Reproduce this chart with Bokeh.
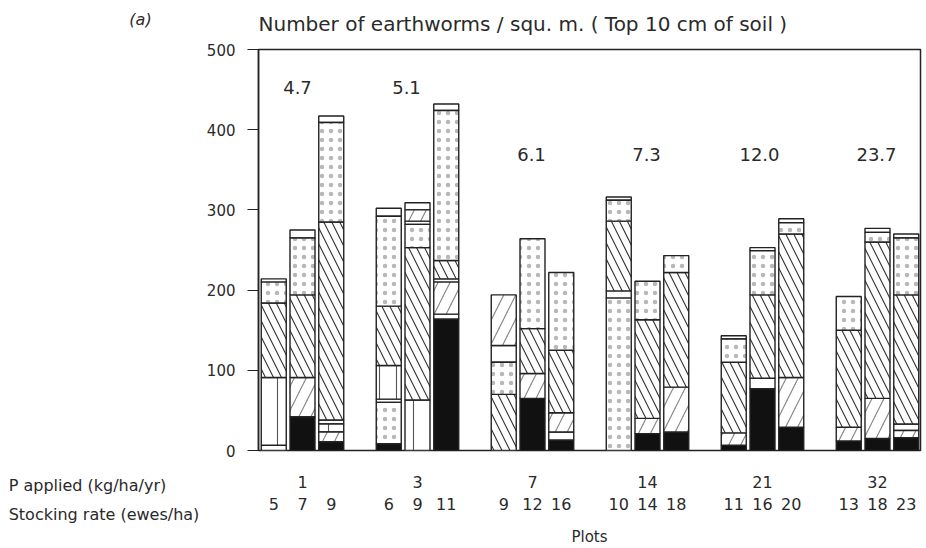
from bokeh.plotting import figure
from bokeh.models import Range1d, Label, FixedTicker, ColumnDataSource, LinearAxis
from bokeh.layouts import row
from bokeh.embed import file_html
from bokeh.resources import INLINE
import numpy as np

# ---------------- data ----------------
p_applied = ["1", "3", "7", "14", "21", "32"]
stocking_rates = [["5", "7", "9"], ["6", "9", "11"], ["9", "12", "16"],
                  ["10", "14", "18"], ["11", "16", "20"], ["13", "18", "23"]]
group_values = ["4.7", "5.1", "6.1", "7.3", "12.0", "23.7"]
y_ticks = [0, 100, 200, 300, 400, 500]

# segment heights (bottom to top) for each bar; fill codes:
# K black, O open, V vertical lines, S light "/" hatch, B "\" hatch, D dots
plot1_heights = [[6.5, 84.5, 93, 26, 4], [42, 49, 103, 71, 10], [11, 12, 10, 5, 247, 124, 8]]
plot1_fills = [["O", "V", "B", "D", "O"], ["K", "S", "B", "D", "O"], ["K", "S", "V", "O", "B", "D", "O"]]

plot3_heights = [[8.5, 51.5, 4, 42, 74, 112, 10], [63, 190, 29, 4, 14, 9], [164, 6, 40, 4, 23, 187, 8]]
plot3_fills = [["K", "D", "O", "V", "B", "D", "O"], ["V", "B", "D", "O", "S", "O"], ["K", "O", "S", "O", "B", "D", "O"]]

plot7_heights = [[70, 40, 21, 63], [65, 31, 56, 112], [13, 10, 24, 78, 97]]
plot7_fills = [["B", "D", "O", "S"], ["K", "S", "B", "D"], ["K", "O", "S", "B", "D"]]

plot14_heights = [[190, 9, 87, 26, 4], [21, 19, 123, 48], [23, 56, 143, 21]]
plot14_fills = [["D", "O", "B", "D", "O"], ["K", "S", "B", "D"], ["K", "S", "B", "D"]]

plot21_heights = [[6.5, 15.5, 88, 29, 4], [77, 13, 104, 55, 4], [29, 62, 179, 14, 5]]
plot21_fills = [["K", "S", "B", "D", "O"], ["K", "O", "B", "D", "O"], ["K", "S", "B", "D", "O"]]

plot32_heights = [[12, 17, 121, 42], [15, 50, 195, 12, 5], [16, 9, 8, 161, 71, 5]]
plot32_fills = [["K", "S", "B", "D"], ["K", "S", "B", "D", "O"], ["K", "S", "O", "B", "D", "O"]]

all_heights = [plot1_heights, plot3_heights, plot7_heights, plot14_heights, plot21_heights, plot32_heights]
all_fills = [plot1_fills, plot3_fills, plot7_fills, plot14_fills, plot21_fills, plot32_fills]

panel_label = "(a)"
row_titles = ["P applied (kg/ha/yr)", "Stocking rate (ewes/ha)"]

# ---------------- layout ----------------
FONT = "DejaVu Sans"
TXT = "#2a2a2a"
W, H = 926, 548
LEFT_W = 200
MAIN_W = W - LEFT_W
FRAME_L, FRAME_R, FRAME_T, FRAME_B = 258, 920, 48, 457
UNIT = 28.75                       # px per bar slot; group spacing = 4 slots
X0 = 1 - (302 - FRAME_L) / UNIT
X1 = X0 + (FRAME_R - FRAME_L) / UNIT
BW = 25.0 / UNIT
ROW_A_STANDOFF = 25
ROW_B_STANDOFF = 7

# ---- left text panel: "(a)" and the two row titles ----
left = figure(width=LEFT_W, height=H, output_backend="svg", toolbar_location=None,
              x_range=Range1d(0, LEFT_W), y_range=Range1d(0, 1),
              x_axis_type=None, y_axis_type=None,
              min_border_left=0, min_border_right=0,
              min_border_top=FRAME_T, min_border_bottom=H - FRAME_B)
left.xgrid.visible = False
left.ygrid.visible = False
left.outline_line_color = None

top_ax = LinearAxis(ticker=FixedTicker(ticks=[140]), major_label_overrides={140: panel_label},
                    axis_line_color=None, major_tick_line_color=None, minor_tick_line_color=None,
                    major_tick_out=0, major_tick_in=0, major_label_standoff=21,
                    major_label_text_font=FONT, major_label_text_font_size="16px",
                    major_label_text_font_style="italic", major_label_text_color=TXT)
left.add_layout(top_ax, "above")

row_centres = [87, 103.5]
for k, (txt, cx) in enumerate(zip(row_titles, row_centres)):
    ax = LinearAxis(ticker=FixedTicker(ticks=[cx]), major_label_overrides={cx: txt},
                    axis_line_color=None, major_tick_line_color=None, minor_tick_line_color=None,
                    major_tick_out=0, major_tick_in=0,
                    major_label_standoff=ROW_A_STANDOFF if k == 0 else ROW_B_STANDOFF,
                    major_label_text_font=FONT, major_label_text_font_size="16px",
                    major_label_text_color=TXT)
    left.add_layout(ax, "below")

# ---- main chart ----
p = figure(width=MAIN_W, height=H, output_backend="svg", toolbar_location=None,
           x_range=Range1d(X0, X1), y_range=Range1d(0, 500),
           min_border_left=FRAME_L - LEFT_W, min_border_right=W - FRAME_R,
           min_border_top=FRAME_T, min_border_bottom=H - FRAME_B)
p.xgrid.visible = False
p.ygrid.visible = False
p.outline_line_color = "#222222"
p.outline_line_width = 1.5

p.title.text = "Number of earthworms / squ. m. ( Top 10 cm of soil )"
p.title.align = "left"
p.title.vertical_align = "top"
p.title.text_font = FONT
p.title.text_font_size = "20px"
p.title.text_font_style = "normal"
p.title.text_color = TXT
p.title.standoff = 23

ya = p.yaxis[0]
ya.ticker = FixedTicker(ticks=y_ticks)
ya.major_tick_out = 11
ya.major_tick_in = 0
ya.minor_tick_out = 0
ya.minor_tick_in = 0
ya.axis_line_color = "#222222"
ya.axis_line_width = 1.5
ya.major_tick_line_color = "#222222"
ya.major_tick_line_width = 1.2
ya.major_label_standoff = 12
ya.major_label_text_font = FONT
ya.major_label_text_font_size = "15px"
ya.major_label_text_color = TXT

# x positions: group gi centre at 4*gi+1, bars at 4*gi, 4*gi+1, 4*gi+2
group_x = [4 * gi + 1 for gi in range(len(p_applied))]
bar_x = [4 * gi + bi for gi in range(len(p_applied)) for bi in range(3)]

xa = p.xaxis[0]
xa.ticker = FixedTicker(ticks=group_x)
xa.major_label_overrides = {gx: lab for gx, lab in zip(group_x, p_applied)}
xa.axis_line_color = None
xa.major_tick_line_color = None
xa.minor_tick_line_color = None
xa.major_tick_out = 0
xa.major_tick_in = 0
xa.major_label_standoff = ROW_A_STANDOFF
xa.major_label_text_font = FONT
xa.major_label_text_font_size = "16px"
xa.major_label_text_color = TXT

xb = LinearAxis(ticker=FixedTicker(ticks=bar_x),
                major_label_overrides={bx: lab for bx, lab in zip(bar_x, [s for g in stocking_rates for s in g])},
                axis_line_color=None, major_tick_line_color=None, minor_tick_line_color=None,
                major_tick_out=0, major_tick_in=0, major_label_standoff=ROW_B_STANDOFF,
                major_label_text_font=FONT, major_label_text_font_size="16px",
                major_label_text_color=TXT,
                axis_label="Plots", axis_label_standoff=15, axis_label_text_font=FONT,
                axis_label_text_font_size="15px", axis_label_text_font_style="normal",
                axis_label_text_color=TXT)
p.add_layout(xb, "below")

# ---------------- build segments ----------------
rows = {c: dict(x=[], bottom=[], top=[]) for c in "KOVSBD"}
for gi, (hs, fs) in enumerate(zip(all_heights, all_fills)):
    for bi, (h, f) in enumerate(zip(hs, fs)):
        xc = 4 * gi + bi
        tops = np.cumsum(h)
        bottoms = tops - np.array(h)
        for b, t, c in zip(bottoms, tops, f):
            rows[c]["x"].append(xc)
            rows[c]["bottom"].append(float(b))
            rows[c]["top"].append(float(t))

styles = {
    "K": dict(fill_color="#111111"),
    "O": dict(fill_color="white"),
    "V": dict(fill_color="white", hatch_pattern="|", hatch_color="#555555", hatch_scale=17, hatch_weight=1.1),
    "S": dict(fill_color="white", hatch_pattern="/", hatch_color="#888888", hatch_scale=24, hatch_weight=1.2),
    "B": dict(fill_color="white", hatch_pattern="\\", hatch_color="#3a3a3a", hatch_scale=16, hatch_weight=1.2),
    "D": dict(fill_color="white", hatch_pattern=".", hatch_color="#b8b8b8", hatch_scale=9, hatch_weight=1),
}
for c in "KOVSBD":
    src = ColumnDataSource(rows[c])
    p.vbar(x="x", bottom="bottom", top="top", width=BW, source=src,
           line_color="#222222", line_width=1.4, **styles[c])

# values above groups
value_px = [297, 406, 531, 646, 759, 876]
value_py = [87, 87, 155, 155, 155, 155]
for txt, px, py in zip(group_values, value_px, value_py):
    p.add_layout(Label(x=X0 + (px - FRAME_L) / UNIT, y=(FRAME_B - py) * 500.0 / (FRAME_B - FRAME_T),
                       text=txt, text_font=FONT, text_font_size="18px", text_align="center",
                       text_baseline="middle", text_color=TXT))

layout = row(left, p)
open("out.html", "w").write(file_html(layout, INLINE))
